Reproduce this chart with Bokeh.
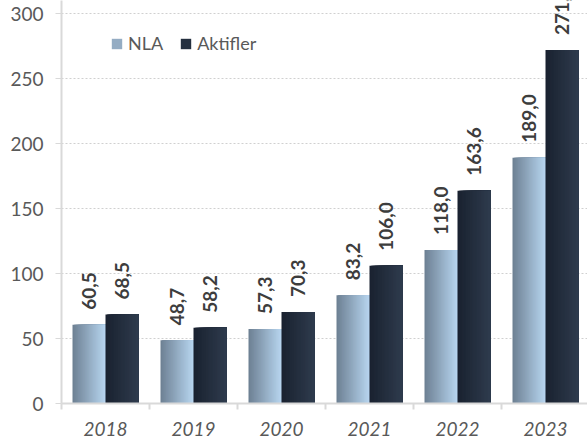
import math
from bokeh.plotting import figure
from bokeh.models import (ColumnDataSource, FixedTicker, Legend, LegendItem, Range1d)
from bokeh.core.properties import value
from bokeh.embed import file_html
from bokeh.resources import INLINE

years = ["2018", "2019", "2020", "2021", "2022", "2023"]
nla = [60.5, 48.7, 57.3, 83.2, 118.0, 189.0]
aktifler = [68.5, 58.2, 70.3, 106.0, 163.6, 271.9]
series_names = ["NLA", "Aktifler"]
y_ticks = [0, 50, 100, 150, 200, 250, 300]

# gradient end colours (left -> right) per series
grad_nla = ((0x6e, 0x81, 0x94), (0xb6, 0xd4, 0xee))
grad_akt = ((0x1a, 0x22, 0x30), (0x2e, 0x3b, 0x4d))

BAR_W = 0.375
OFFS = [-0.1875, 0.1875]
NSTRIP = 24


def hexc(rgb):
    return "#%02x%02x%02x" % tuple(int(round(c)) for c in rgb)


def strips(vals, off, grad):
    lefts, rights, tops, cols = [], [], [], []
    sw = BAR_W / NSTRIP
    for i, v in enumerate(vals):
        c = i + 0.5 + off
        for k in range(NSTRIP):
            t = k / (NSTRIP - 1)
            rgb = [grad[0][j] + (grad[1][j] - grad[0][j]) * t for j in range(3)]
            lefts.append(c - BAR_W / 2 + k * sw)
            rights.append(c + BAR_W / 2)
            tops.append(v)
            cols.append(hexc(rgb))
    return ColumnDataSource(dict(left=lefts, right=rights, top=tops, color=cols))


p = figure(width=587, height=446, output_backend="svg", toolbar_location=None,
           x_range=Range1d(0, 526 / 88), y_range=Range1d(0, 310),
           min_border_top=0, min_border_left=61, min_border_right=0, min_border_bottom=43)
p.outline_line_color = None
p.background_fill_color = "white"

renderers = []
for vals, off, grad in ((nla, OFFS[0], grad_nla), (aktifler, OFFS[1], grad_akt)):
    src = strips(vals, off, grad)
    r = p.quad(left="left", right="right", top="top", bottom=0, fill_color="color",
               line_color=None, source=src)
    renderers.append(r)

# value labels
lx, ly, lt = [], [], []
for vals, off in ((nla, OFFS[0]), (aktifler, OFFS[1])):
    for i, v in enumerate(vals):
        lx.append(i + 0.5 + off)
        ly.append(v)
        lt.append(f"{v:.1f}".replace(".", ","))
p.text(x="x", y="y", text="t", source=ColumnDataSource(dict(x=lx, y=ly, t=lt)),
       angle=math.pi / 2, text_align="left", text_baseline="middle", y_offset=-15,
       text_font=value("Lato"), text_font_style="bold", text_font_size="19px",
       text_color="#3d3d3d")

# axes
p.yaxis.ticker = FixedTicker(ticks=y_ticks)
p.yaxis.axis_line_color = "#d9d9d9"
p.yaxis.axis_line_width = 2
p.yaxis.major_tick_line_color = "#d9d9d9"
p.yaxis.major_tick_out = 6
p.yaxis.major_tick_in = 0
p.yaxis.minor_tick_line_color = None
p.yaxis.major_label_text_font = "Lato"
p.yaxis.major_label_text_font_size = "19px"
p.yaxis.major_label_text_color = "#595959"
p.yaxis.major_label_standoff = 12

centers = [i + 0.5 for i in range(len(years))]
p.xaxis.ticker = FixedTicker(ticks=centers, minor_ticks=list(range(len(years) + 1)))
p.xaxis.major_label_overrides = {c: y for c, y in zip(centers, years)}
p.xaxis.major_tick_line_color = None
p.xaxis.minor_tick_line_color = "#d9d9d9"
p.xaxis.minor_tick_line_width = 2
p.xaxis.minor_tick_out = 6
p.xaxis.minor_tick_in = 0
p.xaxis.axis_line_color = "#d9d9d9"
p.xaxis.axis_line_width = 2
p.xaxis.major_label_text_font = "Lato"
p.xaxis.major_label_text_font_style = "italic"
p.xaxis.major_label_text_font_size = "19px"
p.xaxis.major_label_text_color = "#595959"
p.xaxis.major_label_standoff = 12

p.xgrid.grid_line_color = None
p.ygrid.ticker = FixedTicker(ticks=y_ticks[1:])
p.ygrid.grid_line_color = "#d0d0d0"
p.ygrid.grid_line_dash = "2 2"
p.ygrid.grid_line_width = 1.2

legend = Legend(items=[LegendItem(label=series_names[0], renderers=[renderers[0]], index=NSTRIP // 2),
                       LegendItem(label=series_names[1], renderers=[renderers[1]], index=NSTRIP // 2)],
                orientation="horizontal", location=(49, 349), border_line_color=None,
                background_fill_alpha=0, padding=0, margin=0, spacing=16,
                glyph_width=13, glyph_height=13, label_standoff=5,
                label_text_font="Lato", label_text_font_size="18px", label_text_color="#595959")
p.add_layout(legend, "center")

open("out.html", "w").write(file_html(p, INLINE))
